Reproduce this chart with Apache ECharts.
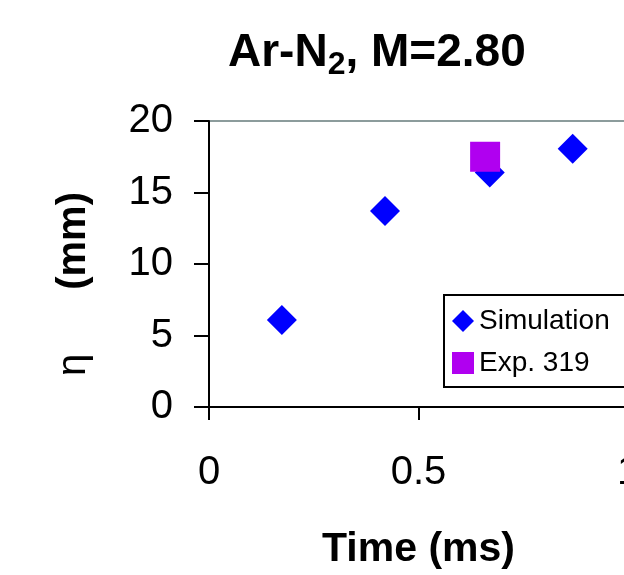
<!DOCTYPE html>
<html><head><meta charset="utf-8">
<script src="https://cdn.jsdelivr.net/npm/echarts@6/dist/echarts.min.js"></script>
<style>html,body{margin:0;padding:0;background:#fff}#c{width:624px;height:575px}</style>
</head><body><div id="c"></div>
<script>
const simTime = [0.174, 0.42, 0.67, 0.868];
const simEta = [6.08, 13.7, 16.4, 18.06];
const expTime = [0.659];
const expEta = [17.5];
const xTicks = [0, 0.5, 1];
const yTicks = [0, 5, 10, 15, 20];

const F = 'Liberation Sans, Arial, sans-serif';
const chart = echarts.init(document.getElementById('c'), null, {renderer: 'canvas'});
chart.setOption({
  animation: false,
  backgroundColor: '#fff',
  title: {
    text: '{b|Ar-N}{s|2}{b|, M=2.80}',
    left: 223, top: 20,
    textStyle: {
      rich: {
        b: {fontFamily: F, fontWeight: 'bold', fontSize: 46, color: '#000'},
        s: {fontFamily: F, fontWeight: 'bold', fontSize: 32, color: '#000', padding: [24, 0, 0, 0]}
      }
    }
  },
  grid: {left: 209, top: 121, width: 419, height: 286, show: true, borderColor: '#8c9c9c', borderWidth: 2,
         backgroundColor: 'transparent', outerBoundsMode: 'none', containLabel: false},
  legend: {
    orient: 'vertical', left: 444, top: 295,
    padding: [12, 20, 10, 8], itemGap: 14,
    borderColor: '#000', borderWidth: 2, backgroundColor: '#fff',
    itemWidth: 22, itemHeight: 22,
    textStyle: {fontFamily: F, fontSize: 28, color: '#000'},
    data: [{name: 'Simulation', icon: 'diamond'}, {name: 'Exp. 319', icon: 'rect'}]
  },
  xAxis: {
    type: 'value', min: xTicks[0], max: xTicks[xTicks.length - 1], interval: 0.5,
    name: 'Time (ms)', nameLocation: 'middle', nameGap: 122,
    nameTextStyle: {fontFamily: F, fontWeight: 'bold', fontSize: 41, color: '#000'},
    axisLine: {lineStyle: {color: '#000', width: 2}},
    axisTick: {length: 13, lineStyle: {color: '#000', width: 2}},
    axisLabel: {margin: 46, fontFamily: F, fontSize: 40, color: '#000'},
    splitLine: {show: false}
  },
  yAxis: {
    type: 'value', min: yTicks[0], max: yTicks[yTicks.length - 1], interval: 5,
    name: '{e|η}{m|(mm)}', nameLocation: 'middle', nameGap: 115,
    nameTextStyle: {
      rich: {
        e: {fontFamily: F, fontSize: 40, color: '#000'},
        m: {fontFamily: F, fontWeight: 'bold', fontSize: 40, color: '#000', padding: [0, 40, 0, 64]}
      }
    },
    axisLine: {lineStyle: {color: '#000', width: 2}},
    axisTick: {length: 15, lineStyle: {color: '#000', width: 2}},
    axisLabel: {margin: 36, fontFamily: F, fontSize: 40, color: '#000'},
    splitLine: {show: false}
  },
  series: [
    {name: 'Simulation', type: 'scatter', symbol: 'diamond', symbolSize: 30,
     itemStyle: {color: '#0000ff', opacity: 1}, data: simTime.map((t, i) => [t, simEta[i]]), z: 2},
    {name: 'Exp. 319', type: 'scatter', symbol: 'rect', symbolSize: 30,
     itemStyle: {color: '#b000f0', opacity: 1}, data: expTime.map((t, i) => [t, expEta[i]]), z: 3}
  ]
});
</script></body></html>
